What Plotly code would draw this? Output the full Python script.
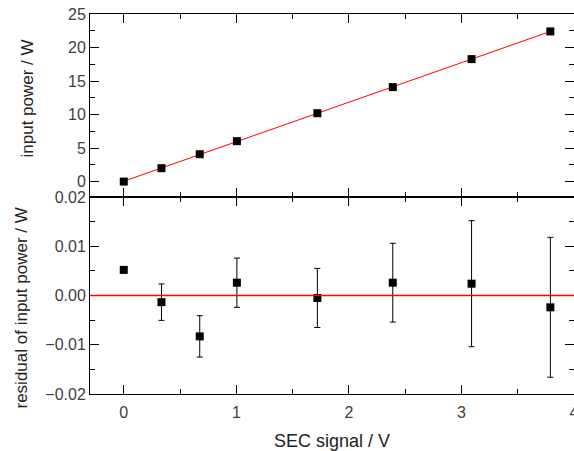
import numpy as np
import plotly.graph_objects as go
from plotly.subplots import make_subplots

# Data
sec_signal = [0.0, 0.335, 0.675, 1.005, 1.72, 2.39, 3.09, 3.79]
input_power = [0.0, 2.0, 4.08, 6.03, 10.2, 14.09, 18.27, 22.4]
residual = [0.0052, -0.00135, -0.0083, 0.0026, -0.0005, 0.0026, 0.0024, -0.0024]
residual_err = [0.0, 0.0037, 0.0042, 0.005, 0.006, 0.008, 0.0128, 0.0142]

top_ticks = [0, 5, 10, 15, 20, 25]
bottom_ticks = [-0.02, -0.01, 0.0, 0.01, 0.02]
x_ticks = [0, 1, 2, 3, 4]

slope, intercept = np.polyfit(sec_signal, input_power, 1)
fit_x = [min(sec_signal), max(sec_signal)]
fit_y = [slope * v + intercept for v in fit_x]

FONT = "Liberation Sans, Arial, sans-serif"

fig = make_subplots(rows=2, cols=1, shared_xaxes=True, vertical_spacing=0,
                    row_heights=[183, 197])

fig.add_trace(go.Scatter(x=fit_x, y=fit_y, mode="lines",
                         line=dict(color="#ff0000", width=1), hoverinfo="skip"),
              row=1, col=1)
fig.add_trace(go.Scatter(x=sec_signal, y=input_power, mode="markers",
                         marker=dict(symbol="square", size=8, color="black")),
              row=1, col=1)
fig.add_trace(go.Scatter(x=sec_signal, y=residual, mode="markers",
                         marker=dict(symbol="square", size=8, color="black"),
                         error_y=dict(type="data", array=residual_err, visible=True,
                                      color="black", thickness=1, width=3)),
              row=2, col=1)

fig.add_shape(type="line", xref="x2 domain", yref="y2", x0=0, x1=1, y0=0, y1=0,
              line=dict(color="#ff0000", width=1.3))

axis_common = dict(showline=True, linecolor="black", linewidth=1, mirror="allticks",
                   ticks="inside", ticklen=9, tickcolor="black", tickwidth=1,
                   showgrid=False, zeroline=False,
                   tickfont=dict(family=FONT, size=16, color="#404040"))

fig.update_xaxes(range=[-0.3, 4.0], tickvals=x_ticks,
                 minor=dict(ticks="inside", ticklen=5, dtick=0.5, tick0=0,
                            tickcolor="black", showgrid=False),
                 **axis_common)
fig.update_xaxes(showticklabels=False, row=1, col=1)
fig.update_xaxes(ticklabelstandoff=4, ticklabeloverflow="allow",
                 title=dict(text="SEC signal / V",
                            font=dict(family=FONT, size=18, color="#222222"),
                            standoff=14), row=2, col=1)

fig.update_yaxes(range=[-2.3, 25], tickvals=top_ticks,
                 minor=dict(ticks="inside", ticklen=5, dtick=2.5, tick0=0,
                            tickcolor="black", showgrid=False),
                 row=1, col=1, **axis_common)
fig.update_yaxes(range=[-0.02, 0.02], tickvals=bottom_ticks, tickformat=".2f",
                 minor=dict(ticks="inside", ticklen=5, dtick=0.005, tick0=0,
                            tickcolor="black", showgrid=False),
                 row=2, col=1, **axis_common)

fig.add_annotation(text="input power / W", xref="paper", yref="paper",
                   x=0, y=0.5184 + (1 - 0.5184) / 2, xanchor="center", yanchor="middle",
                   xshift=-62, yshift=7, textangle=-90, showarrow=False,
                   font=dict(family=FONT, size=17, color="#222222"))
fig.add_annotation(text="residual of input power / W", xref="paper", yref="paper",
                   x=0, y=0.5184 / 2, xanchor="center", yanchor="middle",
                   xshift=-68, yshift=-13, textangle=-90, showarrow=False,
                   font=dict(family=FONT, size=17, color="#222222"))

fig.update_layout(width=574, height=451, showlegend=False,
                  margin=dict(l=90, r=0, t=14, b=57, autoexpand=False),
                  paper_bgcolor="white", plot_bgcolor="white",
                  font=dict(family=FONT))

fig.write_html("out.html", config={"displayModeBar": False},
               post_script="document.body.style.margin='0';"
                           "document.body.style.overflow='hidden';")
